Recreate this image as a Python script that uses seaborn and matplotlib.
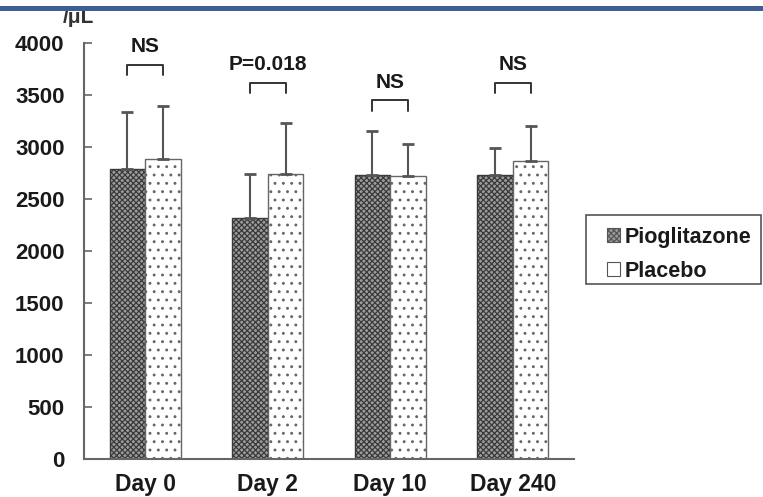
import matplotlib
matplotlib.use("Agg")
import matplotlib.pyplot as plt
from matplotlib.patches import Patch, Rectangle
import numpy as np
import pandas as pd
import seaborn as sns

# Lymphocyte counts (/uL), mean and SD, by visit
days = ["Day 0", "Day 2", "Day 10", "Day 240"]
groups = ["Pioglitazone", "Placebo"]
pio_mean = [2790, 2320, 2730, 2730]
pio_sd = [550, 420, 420, 265]
placebo_mean = [2880, 2740, 2720, 2870]
placebo_sd = [510, 495, 310, 335]

# Significance annotations per visit
sig_labels = ["NS", "P=0.018", "NS", "NS"]
bracket_top = [3790, 3620, 3450, 3620]

y_ticks = [0, 500, 1000, 1500, 2000, 2500, 3000, 3500, 4000]

df = pd.DataFrame({
    "day": days * 2,
    "group": [groups[0]] * 4 + [groups[1]] * 4,
    "value": pio_mean + placebo_mean,
})

sns.set_style("white")
plt.rcParams["font.family"] = ["Liberation Sans", "DejaVu Sans"]
plt.rcParams["font.weight"] = "bold"
plt.rcParams["hatch.linewidth"] = 0.9

W, H = 763, 497
fig = plt.figure(figsize=(W / 100, H / 100), dpi=100)
ax = fig.add_axes([84 / W, 1 - 459 / H, (574 - 84) / W, (459 - 43) / H])

sns.barplot(data=df, x="day", y="value", hue="group", order=days,
            hue_order=groups, width=0.58, errorbar=None, ax=ax,
            palette=["#9c9c9c", "#ffffff"], legend=False, saturation=1)

styles = [dict(hatch="xxxxxx", edgecolor="#3a3a3a"),
          dict(hatch="..", edgecolor="#666666")]
sds = [pio_sd, placebo_sd]
means = [pio_mean, placebo_mean]
bar_containers = list(ax.containers)
centers = []
for gi, cont in enumerate(bar_containers):
    xs = []
    for bar in cont.patches:
        bar.set_hatch(styles[gi]["hatch"])
        bar.set_edgecolor(styles[gi]["edgecolor"])
        bar.set_linewidth(1.0)
        xs.append(bar.get_x() + bar.get_width() / 2)
    centers.append(xs)

for gi in range(len(groups)):
    # upward-only SD bars
    ax.errorbar(centers[gi], means[gi],
                yerr=[np.zeros(len(days)), sds[gi]], fmt="none",
                ecolor="#555555", elinewidth=1.5, capsize=4, capthick=2,
                zorder=1)

# significance brackets
for i in range(len(days)):
    x0, x1 = centers[0][i], centers[1][i]
    yt = bracket_top[i]
    ax.plot([x0, x0, x1, x1], [yt - 100, yt, yt, yt - 100], color="#333333",
            lw=1.4, clip_on=False)
    ax.text((x0 + x1) / 2, yt + 175, sig_labels[i], ha="center", va="center",
            fontsize=15, fontweight="bold", color="#1a1a1a", clip_on=False)

ax.set_xlim(-0.5, 3.5)
ax.set_ylim(0, 4000)
ax.set_yticks(y_ticks)
ax.set_yticklabels([str(v) for v in y_ticks], fontsize=16, fontweight="bold",
                   color="#1a1a1a")
ax.set_xticks(range(len(days)))
ax.set_xticklabels(days, fontsize=16.5, fontweight="bold", color="#1a1a1a")
ax.set_xticks([0.5, 1.5, 2.5, 3.5], minor=True)
ax.tick_params(axis="x", which="major", length=0, pad=10)
ax.tick_params(axis="x", which="minor", direction="in", length=5,
               width=1.2, color="#666666")
ax.tick_params(axis="y", direction="in", length=6, width=1.2,
               color="#666666", pad=14, left=True)
ax.set_xlabel("")
ax.set_ylabel("")
for side in ["top", "right"]:
    ax.spines[side].set_visible(False)
for side in ["left", "bottom"]:
    ax.spines[side].set_color("#666666")
    ax.spines[side].set_linewidth(1.5)

# legend entries, with a separate box around them
handles = [Patch(facecolor="#9c9c9c", edgecolor="#555555", hatch="xxxxxx",
                 linewidth=0.8),
           Patch(facecolor="#ffffff", edgecolor="#555555", linewidth=0.8)]
leg = fig.legend(handles, groups, loc="upper left",
                 bbox_to_anchor=(607 / W, 1 - 227 / H),
                 bbox_transform=fig.transFigure, frameon=False,
                 handlelength=0.62, handleheight=0.62, handletextpad=0.2,
                 borderpad=0, labelspacing=0.6, borderaxespad=0,
                 prop={"size": 15.5, "weight": "bold"})
for t in leg.get_texts():
    t.set_color("#1a1a1a")
fig.add_artist(Rectangle((586 / W, 1 - 284 / H), (761 - 586) / W, 69 / H,
                         transform=fig.transFigure, facecolor="none",
                         edgecolor="#555555", linewidth=1.2))

# unit label, partly under the header rule
fig.text(63 / W, 1 - 23 / H, "/μL", fontsize=15, fontweight="bold",
         color="#333333", ha="left", va="baseline")
fig.add_artist(Rectangle((0, 1 - 11 / H), 1, 5 / H, transform=fig.transFigure,
                         facecolor="#3d6090", edgecolor="none", zorder=10))

fig.savefig("out.png", dpi=100)
